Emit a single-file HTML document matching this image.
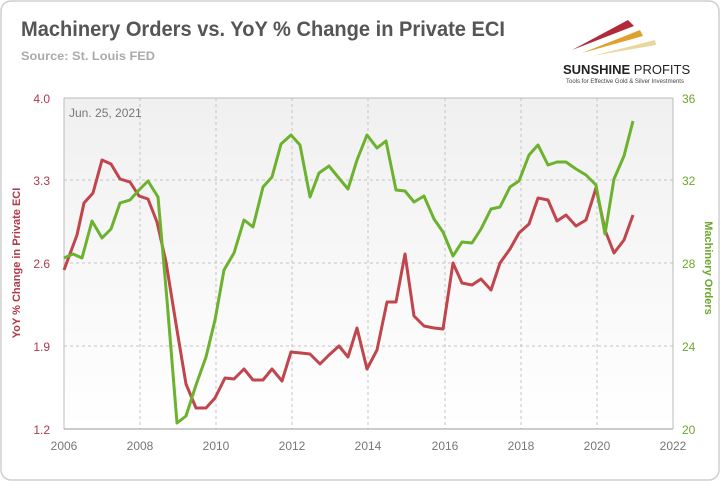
<!DOCTYPE html>
<html><head><meta charset="utf-8"><style>
body{margin:0;background:#fff;width:721px;height:483px;overflow:hidden;font-family:"Liberation Sans",sans-serif}
</style></head><body>
<svg width="721" height="483" viewBox="0 0 721 483" xmlns="http://www.w3.org/2000/svg">
<defs>
<linearGradient id="bg" x1="0" y1="0" x2="0" y2="1">
<stop offset="0" stop-color="#f0f0f0"/><stop offset="1" stop-color="#ffffff"/>
</linearGradient>
</defs>
<rect x="1" y="1" width="718" height="479" rx="10" fill="#fff" stroke="#cfcfcf" stroke-width="1.5"/>
<text x="21" y="36" font-size="21" font-weight="bold" fill="#555" textLength="484" lengthAdjust="spacingAndGlyphs">Machinery Orders vs. YoY % Change in Private ECI</text>
<text x="21" y="60" font-size="12" font-weight="bold" fill="#aaa" textLength="134" lengthAdjust="spacingAndGlyphs">Source: St. Louis FED</text>
<polygon points="572,50 628,20 634,26" fill="#b02a3a"/>
<polygon points="582,53 640,30 643,36" fill="#e0a030"/>
<polygon points="592,56 655,40 656,45" fill="#e8d8a0"/>
<text x="563" y="74" font-size="13" font-weight="bold" fill="#222">SUNSHINE <tspan font-weight="normal">PROFITS</tspan></text>
<text x="566" y="83" font-size="6" fill="#444">Tools for Effective Gold &amp; Silver Investments</text>
<rect x="64" y="98" width="609" height="331" fill="url(#bg)"/>
<g stroke="#c4c4c4" stroke-dasharray="3,3" stroke-width="1">
<line x1="64" y1="180" x2="673" y2="180"/><line x1="64" y1="263" x2="673" y2="263"/><line x1="64" y1="346" x2="673" y2="346"/>
<line x1="140" y1="98" x2="140" y2="429"/><line x1="216" y1="98" x2="216" y2="429"/><line x1="292" y1="98" x2="292" y2="429"/><line x1="368" y1="98" x2="368" y2="429"/><line x1="445" y1="98" x2="445" y2="429"/><line x1="521" y1="98" x2="521" y2="429"/><line x1="597" y1="98" x2="597" y2="429"/>
</g>
<line x1="64" y1="98" x2="673" y2="98" stroke="#bbb"/>
<line x1="64" y1="98" x2="64" y2="429" stroke="#bbb"/>
<line x1="64" y1="429" x2="673" y2="429" stroke="#999"/>
<line x1="673" y1="98" x2="673" y2="429" stroke="#bbb"/>
<g font-size="12" fill="#b03a48" text-anchor="end">
<text x="50" y="103">4.0</text><text x="50" y="185">3.3</text><text x="50" y="268">2.6</text><text x="50" y="351">1.9</text><text x="50" y="434">1.2</text>
</g>
<g font-size="12" fill="#6aa82a">
<text x="682" y="103">36</text><text x="682" y="185">32</text><text x="682" y="268">28</text><text x="682" y="351">24</text><text x="682" y="434">20</text>
</g>
<g font-size="12" fill="#777" text-anchor="middle">
<text x="64" y="450">2006</text><text x="140" y="450">2008</text><text x="216" y="450">2010</text><text x="292" y="450">2012</text><text x="368" y="450">2014</text><text x="445" y="450">2016</text><text x="521" y="450">2018</text><text x="597" y="450">2020</text><text x="673" y="450">2022</text>
</g>
<text x="69" y="117" font-size="12" fill="#777">Jun. 25, 2021</text>
<text transform="translate(20,263) rotate(-90)" font-size="11" font-weight="bold" fill="#b03a48" text-anchor="middle">YoY % Change in Private ECI</text>
<text transform="translate(705,268) rotate(90)" font-size="11" font-weight="bold" fill="#6aa82a" text-anchor="middle">Machinery Orders</text>
<polyline fill="none" stroke="#c0454d" stroke-width="3" stroke-linejoin="round" points="64,270 77,235 84,203 93,193 102,160 111,164 120,179 130,182 139,196 148,199 157,222 166,262 177,330 186,384 196,408 206,408 215,398 225,378 234,379 244,369 253,380 263,380 272,369 282,381 291,352 301,353 310,354 320,364 329,355 339,346 348,357 357,328 367,369 377,350 387,302 396,302 405,254 414,316 424,326 434,328 443,329 453,263 462,283 472,285 481,279 491,290 500,263 510,249 519,233 529,224 538,198 548,200 557,221 566,215 576,226 586,220 596,188 605,230 614,253 624,240 633,215"/>
<polyline fill="none" stroke="#6cb22e" stroke-width="3" stroke-linejoin="round" points="64,258 73,254 82,258 92,221 102,238 111,229 120,203 130,200 139,190 148,181 158,197 167,300 177,423 186,416 196,385 206,357 215,320 224,270 234,253 244,220 253,227 263,187 272,177 281,144 291,135 300,145 310,197 319,173 329,166 338,177 348,189 357,160 367,135 377,148 386,141 396,190 405,191 414,202 424,196 434,219 443,232 453,256 462,242 472,243 481,229 491,209 500,207 510,187 519,181 529,155 538,145 548,165 557,162 566,162 576,169 586,175 596,185 605,234 614,179 624,156 633,121"/>
</svg>
</body></html>
